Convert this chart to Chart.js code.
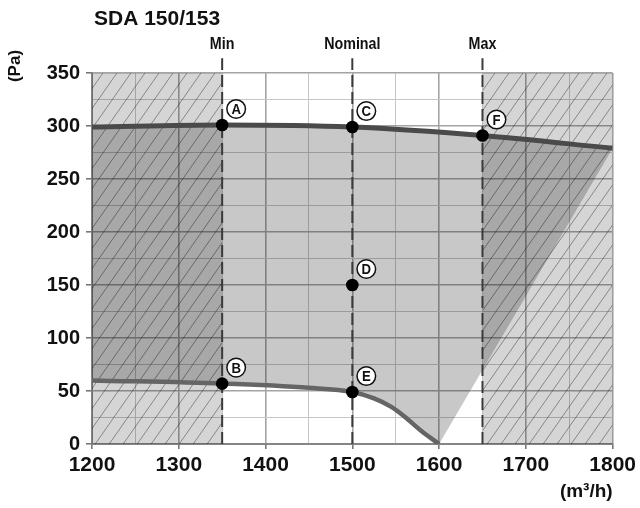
<!DOCTYPE html>
<html>
<head>
<meta charset="utf-8">
<script src="https://cdn.jsdelivr.net/npm/chart.js@4.4.1/dist/chart.umd.min.js"></script>
<style>
  html, body { margin: 0; padding: 0; background: #fff; }
</style>
</head>
<body>
<canvas id="fanChart" width="640" height="508"></canvas>
<script>
const FONT = "'Liberation Sans', Arial, sans-serif";

// operating limits (m3/h)
const markerFlows = [1350, 1500, 1650];
const markerNames = ['Min', 'Nominal', 'Max'];

// max pressure curve
const upperFlow = [1200, 1350, 1500, 1650, 1800];
const upperPa = [299, 301, 299, 291, 279];

// min pressure curve
const lowerFlow = [1200, 1350, 1450, 1500, 1525, 1545, 1560, 1580, 1600];
const lowerPa = [60, 57, 53, 49, 43, 35, 26, 12, 0];

// operating points
const pointFlow = [1350, 1350, 1500, 1500, 1500, 1650];
const pointPa = [301, 57, 299, 150, 49, 291];
const pointNames = ['A', 'B', 'C', 'D', 'E', 'F'];

// hatched (outside range) zones
const zoneLeft = [1200, 1350];
const zoneRight = [1650, 1800];

const xMin = 1200, xMax = 1800;
const yMin = 0, yMax = 350;

const toXY = (xs, ys) => xs.map((x, i) => ({ x: x, y: ys[i] }));

function hatchPattern() {
  const w = 14, h = 20;
  const c = document.createElement('canvas');
  c.width = w; c.height = h;
  const g = c.getContext('2d');
  g.fillStyle = 'rgba(0,0,0,0.165)';
  g.fillRect(0, 0, w, h);
  g.strokeStyle = 'rgba(0,0,0,0.42)';
  g.lineWidth = 0.9;
  g.beginPath();
  g.moveTo(-w, 2 * h); g.lineTo(w, 0);
  g.moveTo(0, 2 * h); g.lineTo(2 * w, 0);
  g.moveTo(-w, h); g.lineTo(0, 0);
  g.stroke();
  return g.createPattern(c, 'repeat');
}
const hatch = hatchPattern();

// lower edge of the operating area: min curve, then the right limit line
const boundFlow = lowerFlow.concat([upperFlow[upperFlow.length - 1]]);
const boundPa = lowerPa.concat([upperPa[upperPa.length - 1]]);

function narrowText(ctx, text, x, y, sx) {
  ctx.save();
  ctx.translate(x, y);
  ctx.scale(sx, 1);
  ctx.fillText(text, 0, 0);
  ctx.restore();
}

const labelPlugin = {
  id: 'labels',
  afterDatasetsDraw(chart) {
    const ctx = chart.ctx;
    const meta = chart.getDatasetMeta(0);
    ctx.save();
    meta.data.forEach((pt, i) => {
      const cx = pt.x + 14, cy = pt.y - 16;
      ctx.beginPath();
      ctx.arc(cx, cy, 9.3, 0, Math.PI * 2);
      ctx.fillStyle = '#fff';
      ctx.fill();
      ctx.lineWidth = 1.5;
      ctx.strokeStyle = '#111';
      ctx.stroke();
      ctx.fillStyle = '#111';
      ctx.font = 'bold 15px ' + FONT;
      ctx.textAlign = 'center';
      ctx.textBaseline = 'middle';
      narrowText(ctx, pointNames[i], cx, cy + 1, 0.88);
    });
    ctx.restore();
  },
  afterDraw(chart) {
    const ctx = chart.ctx;
    const area = chart.chartArea;
    const xs = chart.scales.x;
    ctx.save();
    ctx.fillStyle = '#111';
    ctx.textBaseline = 'middle';
    ctx.font = 'bold 21px ' + FONT;
    ctx.textAlign = 'left';
    ctx.fillText('SDA 150/153', area.left + 2, 19);
    ctx.font = 'bold 17px ' + FONT;
    ctx.textAlign = 'center';
    markerFlows.forEach((f, i) => {
      narrowText(ctx, markerNames[i], xs.getPixelForValue(f), 44, 0.84);
    });
    ctx.font = 'bold 19px ' + FONT;
    ctx.textAlign = 'right';
    ctx.fillText('(m\u00b3/h)', area.right, 492);
    ctx.translate(15, 66);
    ctx.rotate(-Math.PI / 2);
    ctx.font = 'bold 17px ' + FONT;
    ctx.textAlign = 'center';
    ctx.fillText('(Pa)', 0, 0);
    ctx.restore();
  }
};

const dashed = markerFlows.map(f => ({
  data: [{ x: f, y: yMin }, { x: f, y: 364 }],
  borderColor: '#3a3a3a',
  borderWidth: 2,
  borderDash: [12, 5],
  pointRadius: 0,
  clip: false,
  order: 1
}));

new Chart(document.getElementById('fanChart'), {
  type: 'line',
  data: {
    datasets: [
      {
        data: toXY(pointFlow, pointPa),
        showLine: false,
        pointRadius: 6.3,
        pointBackgroundColor: '#000',
        pointBorderWidth: 0,
        order: 0
      },
      {
        data: toXY(upperFlow, upperPa),
        borderColor: '#4a4a4a',
        borderWidth: 5,
        cubicInterpolationMode: 'monotone',
        pointRadius: 0,
        fill: { target: 2 },
        backgroundColor: 'rgba(0,0,0,0.215)',
        order: 3
      },
      {
        data: toXY(boundFlow, boundPa),
        borderWidth: 0,
        borderColor: 'rgba(0,0,0,0)',
        pointRadius: 0,
        fill: false,
        order: 5
      },
      {
        data: toXY(lowerFlow, lowerPa),
        borderColor: '#656565',
        borderWidth: 4.5,
        cubicInterpolationMode: 'monotone',
        pointRadius: 0,
        fill: false,
        order: 2
      },
      {
        data: toXY(zoneLeft, [yMax, yMax]),
        borderWidth: 0,
        pointRadius: 0,
        fill: 'origin',
        backgroundColor: hatch,
        order: 6
      },
      {
        data: toXY(zoneRight, [yMax, yMax]),
        borderWidth: 0,
        pointRadius: 0,
        fill: 'origin',
        backgroundColor: hatch,
        order: 6
      },
      ...dashed
    ]
  },
  options: {
    responsive: false,
    animation: false,
    layout: { padding: { left: 0, right: 24, top: 73, bottom: 0 } },
    plugins: {
      legend: { display: false },
      tooltip: { enabled: false }
    },
    scales: {
      x: {
        type: 'linear',
        min: xMin,
        max: xMax,
        afterFit(scale) { scale.height = 64; },
        border: { color: '#858585', width: 2 },
        grid: {
          color: c => (c.tick && c.tick.value % 100 === 0) ? '#a4a4a4' : '#c6c6c6',
          lineWidth: c => (c.tick && c.tick.value % 100 === 0) ? 1.6 : 1,
          tickColor: c => (c.tick && c.tick.value % 100 === 0) ? '#777' : 'rgba(0,0,0,0)',
          tickLength: 5
        },
        ticks: {
          stepSize: 50,
          padding: 4,
          maxRotation: 0,
          autoSkip: false,
          color: '#111',
          font: { family: FONT, size: 21, weight: 'bold' },
          callback: v => v % 100 === 0 ? v : ''
        }
      },
      y: {
        min: yMin,
        max: yMax,
        afterFit(scale) { scale.width = 92; },
        border: { color: '#858585', width: 2 },
        grid: {
          color: c => (c.tick && c.tick.value % 50 === 0) ? '#a4a4a4' : '#c6c6c6',
          lineWidth: c => (c.tick && c.tick.value % 50 === 0) ? 1.6 : 1,
          tickColor: c => (c.tick && c.tick.value % 50 === 0) ? '#777' : 'rgba(0,0,0,0)',
          tickLength: 6
        },
        ticks: {
          stepSize: 25,
          padding: 6,
          autoSkip: false,
          color: '#111',
          font: { family: FONT, size: 20, weight: 'bold' },
          callback: v => v % 50 === 0 ? v : ''
        }
      }
    }
  },
  plugins: [labelPlugin]
});
</script>
</body>
</html>
